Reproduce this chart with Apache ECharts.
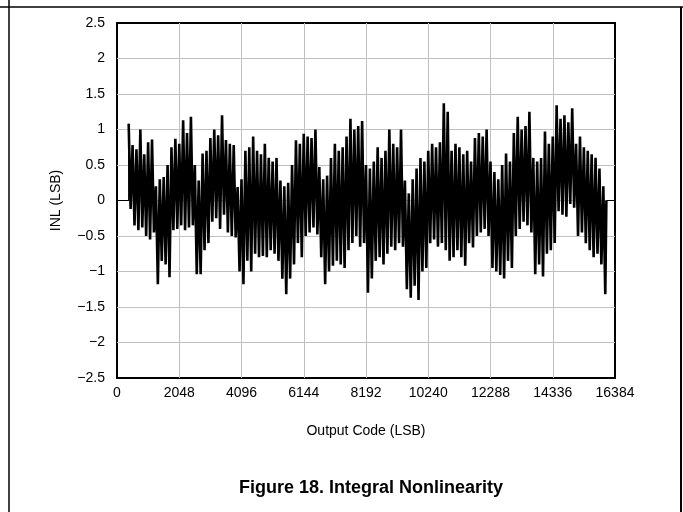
<!DOCTYPE html>
<html>
<head>
<meta charset="utf-8">
<script src="https://cdn.jsdelivr.net/npm/echarts@6/dist/echarts.min.js"></script>
<style>
  html, body { margin: 0; padding: 0; background: #fff; }
  .main { width: 683px; height: 512px; }
</style>
</head>
<body>
<div class="main"></div>
<script>
// segment start codes (LSB), upper and lower INL envelope
var codes = [384, 512, 640, 768, 896, 1024, 1152, 1280, 1408, 1536, 1664, 1792, 1920, 2048, 2176, 2304,
  2432, 2560, 2688, 2816, 2944, 3072, 3200, 3328, 3456, 3584, 3712, 3840, 3968, 4096, 4224, 4352,
  4480, 4608, 4736, 4864, 4992, 5120, 5248, 5376, 5504, 5632, 5760, 5888, 6016, 6144, 6272, 6400,
  6528, 6656, 6784, 6912, 7040, 7168, 7296, 7424, 7552, 7680, 7808, 7936, 8064, 8192, 8320, 8448,
  8576, 8704, 8832, 8960, 9088, 9216, 9344, 9472, 9600, 9728, 9856, 9984, 10112, 10240, 10368, 10496,
  10624, 10752, 10880, 11008, 11136, 11264, 11392, 11520, 11648, 11776, 11904, 12032, 12160, 12288, 12416, 12544,
  12672, 12800, 12928, 13056, 13184, 13312, 13440, 13568, 13696, 13824, 13952, 14080, 14208, 14336, 14464, 14592,
  14720, 14848, 14976, 15104, 15232, 15360, 15488, 15616, 15744, 15872, 16000];

var inlHigh = [1.08, 0.78, 0.72, 1.0, 0.65, 0.82, 0.86, 0.2, 0.3, 0.33, 0.5, 0.75, 0.87, 0.8, 1.13, 0.95,
  1.18, 0.5, 0.28, 0.66, 0.7, 0.88, 1.0, 0.92, 1.2, 0.85, 0.8, 0.78, 0.19, 0.3, 0.7, 0.75,
  0.9, 0.7, 0.65, 0.8, 0.6, 0.55, 0.6, 0.28, 0.2, 0.25, 0.5, 0.85, 0.8, 0.94, 0.9, 0.88,
  1.0, 0.47, 0.3, 0.35, 0.6, 0.8, 0.7, 0.75, 0.9, 1.15, 1.0, 1.05, 1.12, 0.5, 0.45, 0.55,
  0.75, 0.6, 0.7, 1.0, 0.8, 0.75, 1.0, 0.28, 0.1, 0.3, 0.45, 0.6, 0.55, 0.7, 0.8, 0.75,
  0.82, 1.37, 1.25, 0.7, 0.8, 0.75, 0.65, 0.7, 0.55, 0.88, 0.95, 0.9, 1.0, 0.55, 0.4, 0.3,
  0.5, 0.66, 0.55, 0.95, 1.18, 1.0, 1.05, 1.25, 0.6, 0.55, 0.6, 0.97, 0.8, 0.9, 1.34, 1.15,
  1.2, 1.1, 1.3, 0.8, 0.9, 0.75, 0.7, 0.65, 0.6, 0.45, 0.2];

var inlLow = [-0.12, -0.35, -0.42, -0.38, -0.5, -0.55, -0.45, -1.18, -0.85, -0.9, -1.08, -0.42, -0.4, -0.35, -0.42, -0.38,
  -0.35, -1.04, -1.04, -0.7, -0.6, -0.3, -0.25, -0.4, -0.2, -0.45, -0.5, -0.52, -1.0, -1.18, -0.85, -1.0,
  -0.75, -0.8, -0.78, -0.8, -0.7, -0.75, -0.85, -1.1, -1.32, -1.1, -0.9, -0.6, -0.8, -0.5, -0.45, -0.38,
  -0.48, -0.8, -1.18, -1.0, -0.92, -0.85, -0.9, -0.95, -0.7, -0.6, -0.5, -0.65, -0.6, -1.3, -1.1, -0.85,
  -0.8, -0.9, -0.75, -0.65, -0.7, -0.6, -0.65, -1.25, -1.37, -1.2, -1.4, -1.0, -0.95, -0.6, -0.55, -0.65,
  -0.6, -0.7, -0.85, -0.8, -0.7, -0.8, -0.92, -0.6, -0.66, -0.5, -0.45, -0.4, -0.5, -0.95, -1.0, -1.05,
  -1.1, -0.85, -0.95, -0.5, -0.4, -0.3, -0.35, -0.45, -1.04, -0.9, -1.07, -0.75, -0.7, -0.6, -0.15, -0.2,
  -0.23, -0.05, -0.1, -0.5, -0.45, -0.6, -0.7, -0.8, -0.75, -0.9, -1.32];

var xTicks = [0, 2048, 4096, 6144, 8192, 10240, 12288, 14336, 16384];
var yTicks = [-2.5, -2, -1.5, -1, -0.5, 0, 0.5, 1, 1.5, 2, 2.5];
var lastCode = 16100; // where the measured curve drops back to 0

var myChart = echarts.init(document.querySelector('.main'));

// zigzag through the envelope over the measured codes
var points = [];
for (var i = 0; i < codes.length; i++) {
  points.push([codes[i], inlHigh[i]]);
  points.push([codes[i] + 64, inlLow[i]]);
}
points.push([lastCode, 0]);

// flat 0 outside the measured codes
var flatHead = [[xTicks[0], 0], [codes[0], 0], [codes[0], inlHigh[0]]];
var flatTail = [[lastCode, 0], [xTicks[xTicks.length - 1], 0]];

function minus(v) {
  return String(v).replace('-', '\u2212');
}

var font = 'Liberation Sans, Arial, sans-serif';

option = {
  animation: false,
  backgroundColor: '#fff',
  title: {
    text: 'Figure 18. Integral Nonlinearity',
    left: 366,
    top: 474,
    textAlign: 'center',
    textStyle: { fontFamily: font, fontSize: 18, fontWeight: 'bold', color: '#000' }
  },
  grid: {
    left: 117, right: 68, top: 23, bottom: 134,
    show: true, borderColor: '#000', borderWidth: 2
  },
  xAxis: {
    type: 'value',
    min: xTicks[0],
    max: xTicks[xTicks.length - 1],
    interval: 2048,
    name: 'Output Code (LSB)',
    nameLocation: 'middle',
    nameGap: 46,
    nameTextStyle: { fontFamily: font, fontSize: 14, color: '#000' },
    axisLine: { show: false },
    axisTick: { show: false },
    axisLabel: { fontFamily: font, fontSize: 14, color: '#000', margin: 8,
      formatter: function (v) { return String(v); } },
    splitLine: { show: true, showMinLine: false, showMaxLine: false,
      lineStyle: { color: '#c0c0c0', width: 1 } }
  },
  yAxis: {
    type: 'value',
    min: yTicks[0],
    max: yTicks[yTicks.length - 1],
    interval: 0.5,
    name: 'INL (LSB)',
    nameLocation: 'middle',
    nameGap: 54,
    nameTextStyle: { fontFamily: font, fontSize: 14, color: '#000' },
    axisLine: { show: false },
    axisTick: { show: false },
    axisLabel: { fontFamily: font, fontSize: 14, color: '#000', margin: 12, formatter: minus },
    splitLine: { show: true, showMinLine: false, showMaxLine: false,
      lineStyle: { color: '#c0c0c0', width: 1 } }
  },
  graphic: [
    { type: 'line', shape: { x1: 0, y1: 7, x2: 683, y2: 7 }, style: { stroke: '#000', lineWidth: 1.5 } },
    { type: 'line', shape: { x1: 9, y1: 0, x2: 9, y2: 512 }, style: { stroke: '#000', lineWidth: 1.5 } },
    { type: 'line', shape: { x1: 681, y1: 7, x2: 681, y2: 512 }, style: { stroke: '#000', lineWidth: 2 } }
  ],
  series: [{
    name: 'INL',
    type: 'line',
    data: points,
    showSymbol: false,
    lineStyle: { color: '#000', width: 2.6 },
    z: 3
  }, {
    name: 'head',
    type: 'line',
    data: flatHead,
    showSymbol: false,
    lineStyle: { color: '#000', width: 1.2 },
    z: 3
  }, {
    name: 'tail',
    type: 'line',
    data: flatTail,
    showSymbol: false,
    lineStyle: { color: '#000', width: 1.2 },
    z: 3
  }]
};

myChart.setOption(option);
</script>
</body>
</html>
